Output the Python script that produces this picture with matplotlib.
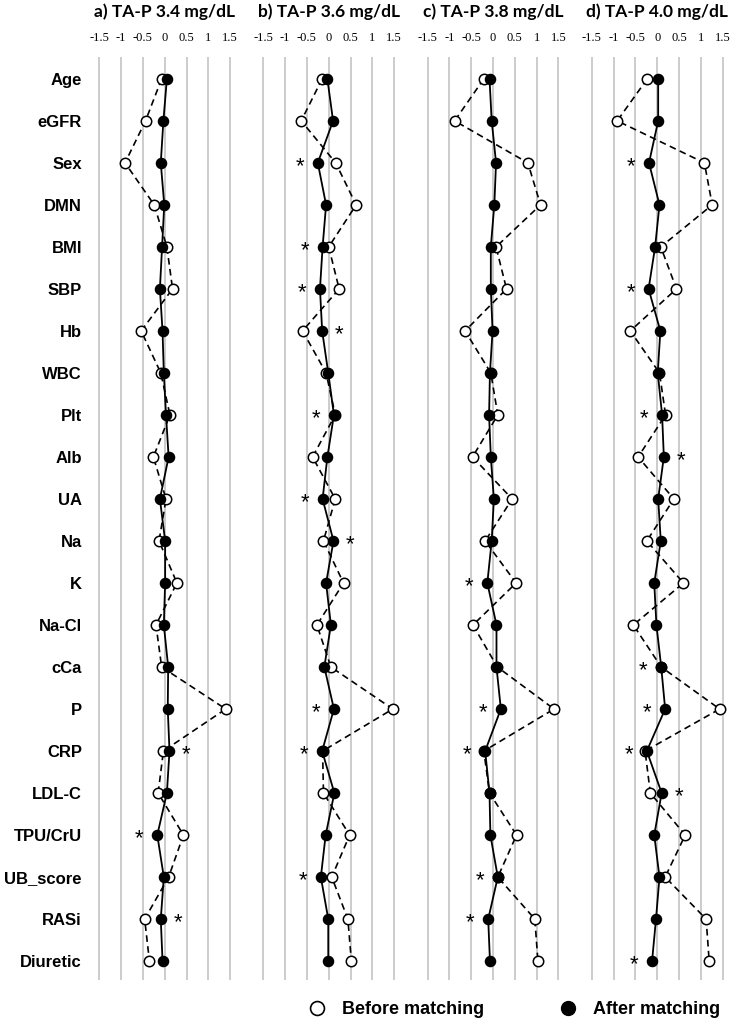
import matplotlib
matplotlib.use("Agg")
import matplotlib.pyplot as plt
from matplotlib.lines import Line2D

# Row labels (top to bottom)
VARIABLES = ["Age", "eGFR", "Sex", "DMN", "BMI", "SBP", "Hb", "WBC", "Plt", "Alb", "UA",
             "Na", "K", "Na-Cl", "cCa", "P", "CRP", "LDL-C", "TPU/CrU", "UB_score", "RASi", "Diuretic"]

PANEL_TITLES = ["a) TA-P 3.4 mg/dL", "b) TA-P 3.6 mg/dL", "c) TA-P 3.8 mg/dL", "d) TA-P 4.0 mg/dL"]

# Standardized differences before matching (open circles)
before_a = [-0.07, -0.44, -0.91, -0.24, 0.05, 0.18, -0.54, -0.09, 0.12, -0.26, 0.03,
            -0.13, 0.28, -0.20, -0.07, 1.40, -0.03, -0.15, 0.43, 0.09, -0.46, -0.35]
before_b = [-0.15, -0.63, 0.16, 0.63, 0.00, 0.24, -0.60, -0.06, 0.15, -0.37, 0.15,
            -0.12, 0.34, -0.27, 0.05, 1.47, -0.14, -0.12, 0.48, 0.07, 0.44, 0.52]
before_c = [-0.21, -0.88, 0.80, 1.09, 0.07, 0.31, -0.64, -0.05, 0.11, -0.47, 0.44,
            -0.18, 0.53, -0.46, 0.10, 1.40, -0.21, -0.08, 0.54, 0.11, 0.96, 1.03]
before_d = [-0.23, -0.92, 1.08, 1.26, 0.08, 0.44, -0.62, 0.05, 0.19, -0.44, 0.38,
            -0.24, 0.60, -0.55, 0.09, 1.43, -0.28, -0.16, 0.64, 0.18, 1.12, 1.19]

# Standardized differences after matching (filled circles)
after_a = [0.05, -0.03, -0.09, -0.01, -0.06, -0.11, -0.05, -0.02, 0.03, 0.09, -0.11,
           0.01, 0.01, -0.02, 0.08, 0.07, 0.11, 0.05, -0.17, -0.02, -0.09, -0.05]
after_b = [-0.03, 0.10, -0.25, -0.06, -0.14, -0.20, -0.15, -0.01, 0.12, -0.03, -0.14,
           0.11, -0.06, 0.05, -0.10, 0.12, -0.15, 0.13, -0.07, -0.18, -0.01, -0.01]
after_c = [-0.08, -0.03, 0.07, 0.03, -0.05, -0.05, -0.01, -0.07, -0.09, -0.05, 0.02,
           -0.03, -0.13, 0.08, 0.08, 0.18, -0.18, -0.08, -0.06, 0.11, -0.11, -0.07]
after_d = [0.02, 0.02, -0.19, 0.05, -0.05, -0.20, 0.07, 0.01, 0.11, 0.15, 0.02,
           0.08, -0.07, -0.02, 0.09, 0.18, -0.24, 0.10, -0.07, 0.05, -0.03, -0.12]

# Significance marks after matching: "L" = asterisk left of point, "R" = right, "" = none
sig_a = ["", "", "", "", "", "", "", "", "", "", "",
         "", "", "", "", "", "R", "", "L", "", "R", ""]
sig_b = ["", "", "L", "", "L", "L", "R", "", "L", "", "L",
         "R", "", "", "", "L", "L", "", "", "L", "", ""]
sig_c = ["", "", "", "", "", "", "", "", "", "", "",
         "", "L", "", "", "L", "L", "", "", "L", "L", ""]
sig_d = ["", "", "L", "", "", "L", "", "", "L", "R", "",
         "", "", "", "L", "L", "L", "R", "", "", "", "L"]

TICKS = [-1.5, -1, -0.5, 0, 0.5, 1, 1.5]
TICK_LABELS = ["-1.5", "-1", "-0.5", "0", "0.5", "1", "1.5"]

W, H = 733, 1025
fig = plt.figure(figsize=(W / 100, H / 100), dpi=100)

rows = list(range(len(VARIABLES)))
befores = [before_a, before_b, before_c, before_d]
afters = [after_a, after_b, after_c, after_d]
sigs = [sig_a, sig_b, sig_c, sig_d]

unit_px = 43.6
half_w = 1.74
zero_px = [164.7, 328.7, 493.0, 657.3]
top_px, bottom_px = 57, 980

for i in range(4):
    left = (zero_px[i] - half_w * unit_px) / W
    width = 2 * half_w * unit_px / W
    ax = fig.add_axes([left, 1 - bottom_px / H, width, (bottom_px - top_px) / H])
    ax.set_xlim(-half_w, half_w)
    ax.set_ylim(21.45, -0.52)
    for s in ax.spines.values():
        s.set_visible(False)

    for t in TICKS:
        ax.axvline(t, color="#c4c4c4", lw=1.2, zorder=0)

    ax.plot(befores[i], rows, color="black", lw=1.2, dashes=(4, 2.6),
            marker="o", ms=7.5, mfc="white", mec="black", mew=1.1, zorder=2)
    ax.plot(afters[i], rows, color="black", lw=1.3, ls="-",
            marker="o", ms=7.3, mfc="black", mec="black", zorder=3)

    for r, (v, s) in enumerate(zip(afters[i], sigs[i])):
        if s:
            dx = -0.41 if s == "L" else 0.39
            ax.text(v + dx, r + 0.22, "*", ha="center", va="baseline",
                    fontsize=16, family="Liberation Sans", zorder=4)

    ax.xaxis.tick_top()
    ax.set_xticks(TICKS)
    ax.set_xticklabels(TICK_LABELS, family="Liberation Serif", fontsize=9)
    ax.tick_params(axis="x", length=0, pad=9)

    ax.text(0.5, 1 + 45 / (bottom_px - top_px), PANEL_TITLES[i], transform=ax.transAxes,
            ha="center", va="center", fontsize=12.5, fontweight="bold", family="Lato")

    if i == 0:
        ax.set_yticks(rows)
        ax.set_yticklabels(VARIABLES, fontsize=12, fontweight="bold", family="Liberation Sans")
        ax.tick_params(axis="y", length=0, pad=5)
    else:
        ax.set_yticks([])

handles = [
    Line2D([], [], ls="none", marker="o", ms=10, mfc="white", mec="black", mew=1.2),
    Line2D([], [], ls="none", marker="o", ms=10, mfc="black", mec="black"),
]
fig.legend(handles, ["Before matching", "After matching"], loc="center",
           bbox_to_anchor=(514 / W, 1 - 1010 / H), ncol=2, frameon=False,
           prop={"family": "Liberation Sans", "weight": "bold", "size": 13},
           handlelength=1.0, handletextpad=0.9, columnspacing=4.1)

fig.savefig("out.png", dpi=100)
